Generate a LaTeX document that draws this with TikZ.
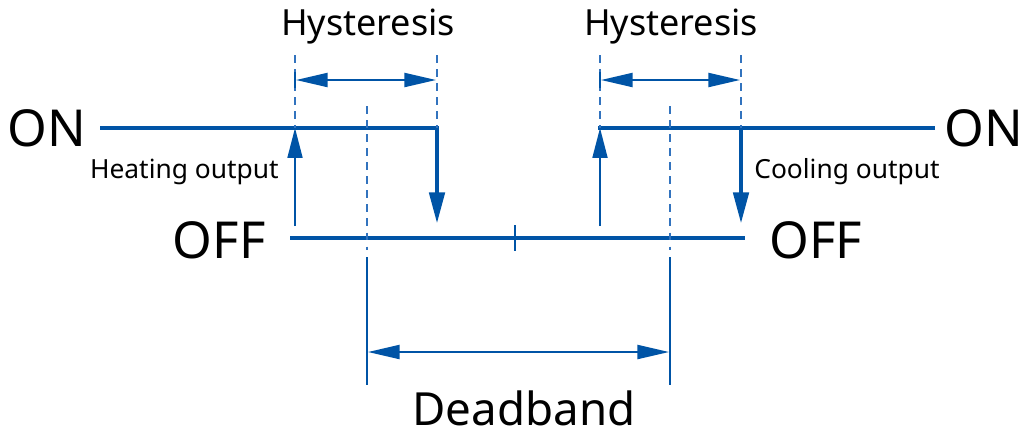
\documentclass[tikz,border=0pt]{standalone}
\usepackage{fontspec}
\setmainfont{Noto Sans}
\usepackage{xcolor}
\usetikzlibrary{arrows.meta, positioning, calc}

\definecolor{lineblue}{RGB}{0,84,166}
\definecolor{dashblue}{RGB}{50,115,190}

\begin{document}
\begin{tikzpicture}[
    x=0.02cm, y=-0.02cm,
    level/.style={draw=lineblue, line width=2.8pt},
    switch/.style={draw=lineblue, line width=2.8pt, -{Triangle[length=18pt, width=8.5pt]}},
    trigger/.style={draw=lineblue, line width=1.1pt, -{Triangle[length=17pt, width=8.5pt]}},
    span/.style={draw=lineblue, line width=1.1pt, {Triangle[length=18pt, width=8pt]}-{Triangle[length=18pt, width=8pt]}},
    guide/.style={draw=dashblue, line width=1.1pt, dash pattern=on 4.5pt off 3.5pt},
    edge/.style={draw=lineblue, line width=1.1pt},
    state/.style={font=\fontsize{29}{33}\selectfont, inner sep=0pt},
    band/.style={font=\fontsize{20.5}{24}\selectfont, inner sep=0pt},
    deadtext/.style={font=\fontsize{26}{30}\selectfont, inner sep=0pt},
    small/.style={font=\fontsize{15}{17}\selectfont, inner sep=0pt}
]
\useasboundingbox (0,0) rectangle (1026,437);

% labels
\node [state] (onL) at (47,128) {ON};
\node [state] (onR) at (984,128) {ON};
\node [state, anchor=east] (offL) at (266,240) {OFF};
\node [state, anchor=west] (offR) at (769,240) {OFF};
\node [band] (hysL) at (368,27) {Hysteresis};
\node [band] (hysR) at (671,27) {Hysteresis};
\node [deadtext, anchor=base] (dead) at (524,425) {Deadband};
\node [small, anchor=east] (heat) at (279,172) {Heating output};
\node [small, anchor=west] (cool) at (754,172) {Cooling output};

% switching points
\coordinate (heatOn)  at (295,128);
\coordinate (heatOff) at (437,128);
\coordinate (coolOn)  at (741,128);
\coordinate (coolOff) at (600,128);
\coordinate (lowL) at (290,238);
\coordinate (lowR) at (745,238);
\coordinate (mid)  at (515,238);

% output levels
\draw [switch] (100,128) -- (heatOff) -- (437,224);
\draw [level] (935,128) -- (598,128);
\draw [switch] (coolOn) -- (741,224);
\draw [level] (lowL) -- (lowR);
\draw [edge, line width=1.6pt] ($(mid)+(0,-13)$) -- ($(mid)+(0,13)$);

% switching on
\draw [trigger] (295,226) -- (heatOn);
\draw [trigger] (600,226) -- (coolOff);

% hysteresis
\draw [guide] (295,55) -- (heatOn);
\draw [guide] (437,55) -- (heatOff);
\draw [guide] (600,55) -- (coolOff);
\draw [guide] (741,55) -- (coolOn);
\draw [edge] (295,72) -- (295,88);
\draw [edge] (600,72) -- (600,88);
\draw [span] (296,80) -- (436,80);
\draw [span] (601,80) -- (740,80);

% deadband
\draw [guide] (367,106) -- (367,250);
\draw [guide] (670,106) -- (670,250);
\draw [edge] (367,257) -- (367,385);
\draw [edge] (670,257) -- (670,385);
\draw [span] (368,352) -- (669,352);
\end{tikzpicture}
\end{document}
